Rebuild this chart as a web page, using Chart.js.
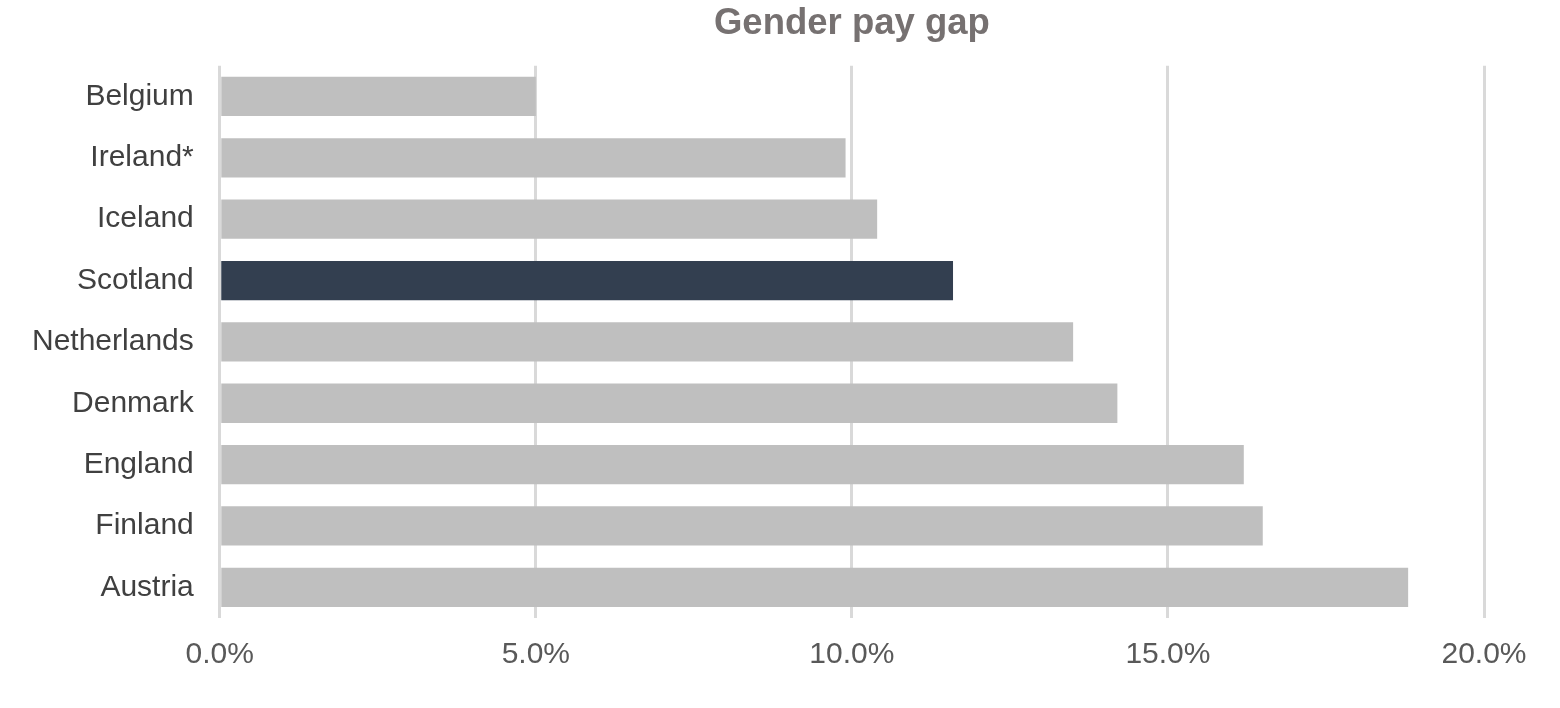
<!DOCTYPE html>
<html lang="en">
<head>
    <meta charset="UTF-8">
    <title>Gender pay gap</title>
    <script src="https://cdn.jsdelivr.net/npm/chart.js"></script>
    <style>
        body {
            margin: 0;
            padding: 0;
            background-color: #ffffff;
        }

        .chart-box {
            width: 1560px;
            height: 708px;
        }
    </style>
</head>
<body>
    <div class="chart-box">
        <canvas id="payGapChart"></canvas>
    </div>

    <script>
        // Dados do gráfico
        const countries = ['Belgium', 'Ireland*', 'Iceland', 'Scotland', 'Netherlands', 'Denmark', 'England', 'Finland', 'Austria'];
        const payGap = [5.0, 9.9, 10.4, 11.6, 13.5, 14.2, 16.2, 16.5, 18.8];
        const highlighted = 'Scotland';
        const tickValues = [0, 5, 10, 15, 20];

        const barColors = countries.map(c => c === highlighted ? '#333f50' : '#bfbfbf');

        const ctx = document.getElementById('payGapChart').getContext('2d');
        new Chart(ctx, {
            type: 'bar',
            data: {
                labels: countries,
                datasets: [{
                    label: 'Gender pay gap',
                    data: payGap,
                    backgroundColor: barColors,
                    barPercentage: 0.64,
                    categoryPercentage: 1.0
                }]
            },
            options: {
                indexAxis: 'y',
                responsive: true,
                maintainAspectRatio: false,
                animation: false,
                layout: {
                    padding: { left: 6, right: 76, top: 0, bottom: 16 }
                },
                plugins: {
                    legend: { display: false },
                    tooltip: { enabled: false },
                    title: {
                        display: true,
                        text: 'Gender pay gap',
                        fullSize: false,
                        color: '#767171',
                        font: { family: "'Liberation Sans', Arial, sans-serif", size: 36.5, weight: 'bold' },
                        padding: { top: 2, bottom: 20 }
                    }
                },
                scales: {
                    x: {
                        min: tickValues[0],
                        max: tickValues[tickValues.length - 1],
                        afterBuildTicks: axis => {
                            axis.ticks = tickValues.map(v => ({ value: v }));
                        },
                        grid: {
                            color: '#d9d9d9',
                            lineWidth: 3,
                            drawTicks: false
                        },
                        border: { display: false },
                        ticks: {
                            color: '#595959',
                            padding: 19,
                            font: { family: "'Liberation Sans', Arial, sans-serif", size: 30 },
                            callback: value => value.toFixed(1) + '%'
                        }
                    },
                    y: {
                        grid: { display: false, drawTicks: false },
                        border: { display: false },
                        ticks: {
                            color: '#404040',
                            padding: 26,
                            font: { family: "'Liberation Sans', Arial, sans-serif", size: 30 }
                        }
                    }
                }
            }
        });
    </script>
</body>
</html>
